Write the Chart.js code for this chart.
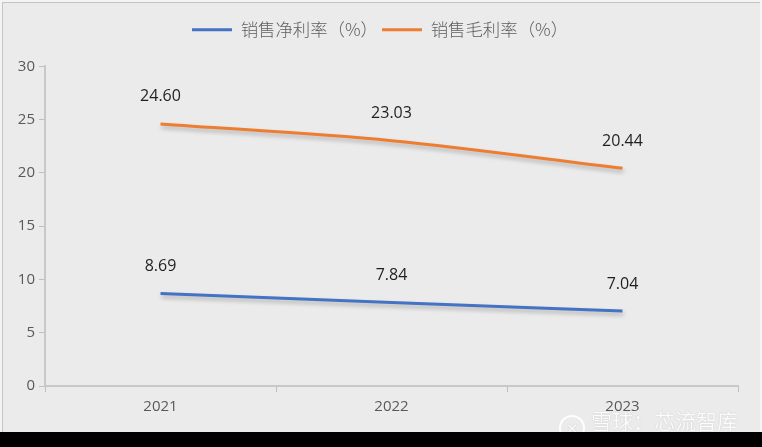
<!DOCTYPE html>
<html><head><meta charset="utf-8">
<script src="https://cdn.jsdelivr.net/npm/chart.js@4"></script>
<style>
html,body{margin:0;padding:0;background:#000;width:762px;height:447px;overflow:hidden;}
#frame{position:absolute;left:0;top:0;width:762px;height:432px;background:#f4f4f4;}
#inner{position:absolute;left:2px;top:2px;width:758px;height:430px;border-top:1px solid #c4c4c4;border-left:1px solid #c4c4c4;box-sizing:border-box;background:#ebebeb;}
#wrap{position:absolute;left:0;top:0;width:762px;height:432px;}
#wm{position:absolute;left:559px;top:406px;height:26px;overflow:hidden;font-family:"Noto Sans CJK SC";font-size:21px;line-height:28px;color:rgba(255,255,255,0.95);text-shadow:0 0 1px rgba(140,140,140,0.6);white-space:nowrap;}
#wm .logo{display:inline-block;width:26px;height:26px;border:2px solid rgba(255,255,255,0.95);border-radius:50%;vertical-align:-5px;margin-right:6px;box-sizing:border-box;font-size:15px;line-height:21px;text-align:center;}
</style></head>
<body>
<div id="frame"><div id="inner"></div></div>
<div id="wrap"><canvas id="c" width="762" height="432"></canvas></div>
<div id="wm"><span class="logo">✕</span>雪球：芯流智库</div>
<script>
const categories = ['2021', '2022', '2023'];
const netMargin = [8.69, 7.84, 7.04];
const grossMargin = [24.60, 23.03, 20.44];
const seriesNames = ['销售净利率（%）', '销售毛利率（%）'];
const yTicks = [0, 5, 10, 15, 20, 25, 30];

const labelPlugin = {
  id: 'valueLabels',
  afterDatasetsDraw(chart) {
    const ctx = chart.ctx;
    ctx.save();
    ctx.font = '16px "Open Sans", "Noto Sans", sans-serif';
    ctx.fillStyle = '#1f1f1f';
    ctx.textAlign = 'center';
    ctx.textBaseline = 'middle';
    chart.data.datasets.forEach((ds, i) => {
      const meta = chart.getDatasetMeta(i);
      meta.data.forEach((pt, j) => {
        ctx.fillText(ds.data[j].toFixed(2), pt.x, pt.y - 27);
      });
    });
    ctx.restore();
  }
};
const shadowPlugin = {
  id: 'lineShadow',
  beforeDatasetDraw(chart) {
    const ctx = chart.ctx;
    ctx.save();
    ctx.shadowColor = 'rgba(0,0,0,0.25)';
    ctx.shadowBlur = 4;
    ctx.shadowOffsetX = 1;
    ctx.shadowOffsetY = 3;
  },
  afterDatasetDraw(chart) { chart.ctx.restore(); }
};
const legendGap = {
  id: 'legendGap',
  beforeInit(chart) {
    const lg = chart.legend;
    const origFit = lg.fit;
    lg.fit = function () { origFit.call(this); this.height += 18; };
    const origDraw = lg.draw;
    lg.draw = function () {
      this.left += 11; this.right += 11;
      origDraw.call(this);
      this.left -= 11; this.right -= 11;
    };
  }
};

Chart.defaults.font.family = '"Open Sans", "Noto Sans", sans-serif';
new Chart(document.getElementById('c'), {
  type: 'line',
  data: {
    labels: categories,
    datasets: [
      { label: seriesNames[0], data: netMargin, borderColor: '#4472c4', backgroundColor: '#4472c4', borderWidth: 3, pointRadius: 0, tension: 0.35, cubicInterpolationMode: 'monotone' },
      { label: seriesNames[1], data: grossMargin, borderColor: '#ed7d31', backgroundColor: '#ed7d31', borderWidth: 3, pointRadius: 0, tension: 0.35, cubicInterpolationMode: 'monotone' }
    ]
  },
  options: {
    responsive: false,
    animation: false,
    layout: { padding: { left: 0, right: 24, top: 17, bottom: 10 } },
    plugins: {
      legend: {
        position: 'top',
        labels: {
          usePointStyle: true,
          pointStyle: 'line',
          pointStyleWidth: 40,
          color: '#5f5f5f',
          font: { family: '"Noto Sans CJK SC"', size: 17.4, weight: '300' },
          padding: 4
        }
      },
      tooltip: { enabled: false }
    },
    scales: {
      x: {
        offset: true,
        grid: { display: true, drawOnChartArea: false, offset: true, tickLength: 6, color: '#bfbfbf', tickWidth: 1 },
        border: { display: true, color: '#c8c8c8', width: 2 },
        ticks: { color: '#595959', font: { size: 15 }, padding: 6 }
      },
      y: {
        min: 0, max: 30,
        afterBuildTicks(axis) { axis.ticks = yTicks.map(v => ({ value: v })); },
        afterFit(axis) { axis.width = 45; },
        grid: { display: true, drawOnChartArea: false, tickLength: 6, color: '#bfbfbf' },
        border: { display: true, color: '#c8c8c8', width: 2 },
        ticks: { color: '#595959', font: { size: 15 }, padding: 4 }
      }
    }
  },
  plugins: [shadowPlugin, labelPlugin, legendGap]
});
</script>
</body></html>
